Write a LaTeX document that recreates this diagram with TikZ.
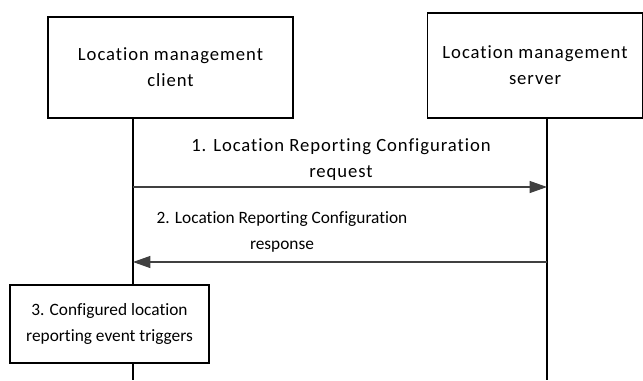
\documentclass[tikz,border=0pt]{standalone}
\usepackage{fontspec}
\setmainfont{Carlito}[LetterSpace=5, Ligatures=NoCommon]
\newfontfamily\narrowfont{Carlito}[Ligatures=NoCommon]
\usetikzlibrary{arrows.meta}
\definecolor{lineclr}{RGB}{64,64,64}

\begin{document}
\begin{tikzpicture}[x=0.75pt,y=-0.75pt,
    entity/.style={draw, line width=0.8pt, align=center, inner sep=0pt,
                   font=\fontsize{14}{19.5}\selectfont},
    msglabel/.style={align=center, inner sep=0pt, font=\fontsize{14}{19.5}\selectfont},
    narrowtext/.style={font=\narrowfont\fontsize{13}{19.5}\selectfont},
    lifeline/.style={draw, line width=0.8pt},
    message/.style={draw=lineclr, line width=0.8pt,
                    -{Triangle[length=13pt, width=9pt]}, fill=lineclr}]
    \useasboundingbox (0,0) rectangle (643,380);

    % entities
    \node[entity, minimum width=245*0.75pt, minimum height=101*0.75pt] (client) at (170.5,67.5)
        {Location management\\client};
    \node[entity, minimum width=215*0.75pt, minimum height=105*0.75pt] (server) at (535,65.5)
        {Location management\\server};

    % lifeline points
    \coordinate (clienttop) at (133,118);
    \coordinate (servertop) at (547,118);
    \coordinate (clientend) at (133,380);
    \coordinate (serverend) at (547,380);
    \coordinate (req-a) at (133,187);
    \coordinate (req-b) at (547,187);
    \coordinate (resp-a) at (547,262);
    \coordinate (resp-b) at (133,262);

    % local step
    \node[entity, narrowtext, minimum width=199*0.75pt, minimum height=78*0.75pt, fill=white] (triggers) at (109.5,324)
        {3. Configured location\\reporting event triggers};

    \draw[lifeline] (clienttop) -- (triggers.north -| clienttop);
    \draw[lifeline] (triggers.south -| clienttop) -- (clientend);
    \draw[lifeline] (servertop) -- (serverend);

    % messages
    \node[msglabel] (reqlabel) at (341,159.5) {1. Location Reporting Configuration\\request};
    \draw[message] (req-a) -- (req-b);

    \node[msglabel, narrowtext] (resplabel) at (282,231.5) {2. Location Reporting Configuration\\response};
    \draw[message] (resp-a) -- (resp-b);
\end{tikzpicture}
\end{document}
